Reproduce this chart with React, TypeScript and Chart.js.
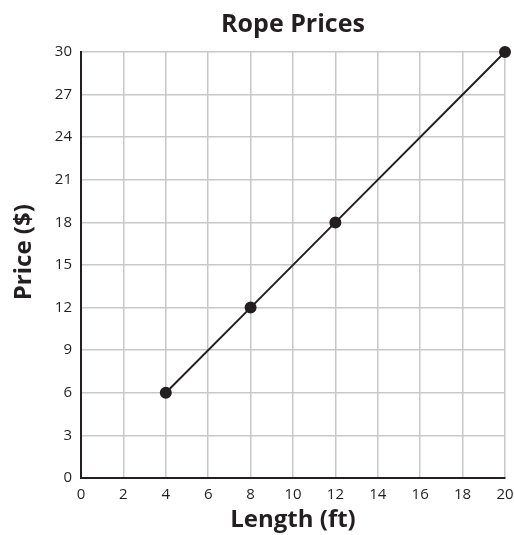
import React, { useEffect, useRef } from "react";
import { Chart, registerables } from "chart.js";

Chart.register(...registerables);

const lengths = [4, 8, 12, 20];
const prices = [6, 12, 18, 30];
const titleText = "Rope Prices";
const xTitle = "Length (ft)";
const yTitle = "Price ($)";

const FONT = "'Open Sans', 'Noto Sans', sans-serif";
const INK = "#231f20";

const yTitlePlugin = {
  id: "yTitlePlugin",
  afterDraw(chart: any) {
    const { ctx, chartArea } = chart;
    ctx.save();
    ctx.font = `bold 24px ${FONT}`;
    ctx.fillStyle = INK;
    ctx.textAlign = "center";
    ctx.textBaseline = "middle";
    ctx.translate(24, chartArea.top + (chartArea.bottom - chartArea.top) * 0.47);
    ctx.rotate(-Math.PI / 2);
    ctx.fillText(yTitle, 0, 0);
    ctx.restore();
  },
};

export default function App() {
  const ref = useRef<HTMLCanvasElement | null>(null);
  useEffect(() => {
    document.body.style.margin = "0";
    const ctx = ref.current!;
    const chart = new Chart(ctx, {
      type: "scatter",
      data: {
        datasets: [
          {
            data: lengths.map((x, i) => ({ x, y: prices[i] })),
            showLine: true,
            borderColor: INK,
            backgroundColor: INK,
            borderWidth: 2,
            pointRadius: 5,
            pointHoverRadius: 5,
            clip: false,
          } as any,
        ],
      },
      plugins: [yTitlePlugin],
      options: {
        animation: false,
        responsive: false,
        maintainAspectRatio: false,
        layout: { padding: { left: 0, right: 0, top: 0, bottom: 0 } },
        plugins: {
          legend: { display: false },
          tooltip: { enabled: false },
          title: {
            display: true,
            fullSize: false,
            text: titleText,
            color: INK,
            font: { family: FONT, size: 25, weight: "bold" },
            padding: { top: 10, bottom: 12 },
          },
        },
        scales: {
          x: {
            type: "linear",
            min: 0,
            max: 20,
            ticks: {
              stepSize: 2,
              color: INK,
              font: { family: FONT, size: 15 },
              padding: 8,
              maxRotation: 0,
            },
            grid: { color: "#c8c8c8", lineWidth: 1.5, drawTicks: false },
            border: { color: INK, width: 2 },
            title: {
              display: true,
              text: xTitle,
              color: INK,
              font: { family: FONT, size: 24, weight: "bold" },
              padding: { top: 2, bottom: 0 },
            },
            afterFit: (s: any) => {
              s.height = 57;
              s.paddingRight = 9;
              s.paddingLeft = 0;
            },
          },
          y: {
            type: "linear",
            min: 0,
            max: 30,
            ticks: {
              stepSize: 3,
              color: INK,
              font: { family: FONT, size: 15 },
              padding: 9,
            },
            grid: { color: "#c8c8c8", lineWidth: 1.5, drawTicks: false },
            border: { color: INK, width: 2 },
            title: { display: false },
            afterFit: (s: any) => {
              s.width = 81;
            },
          },
        },
      },
    });
    return () => chart.destroy();
  }, []);
  return (
    <div style={{ width: 514, height: 535 }}>
      <canvas ref={ref} width={514} height={535} style={{ width: 514, height: 535, display: "block" }} />
    </div>
  );
}
